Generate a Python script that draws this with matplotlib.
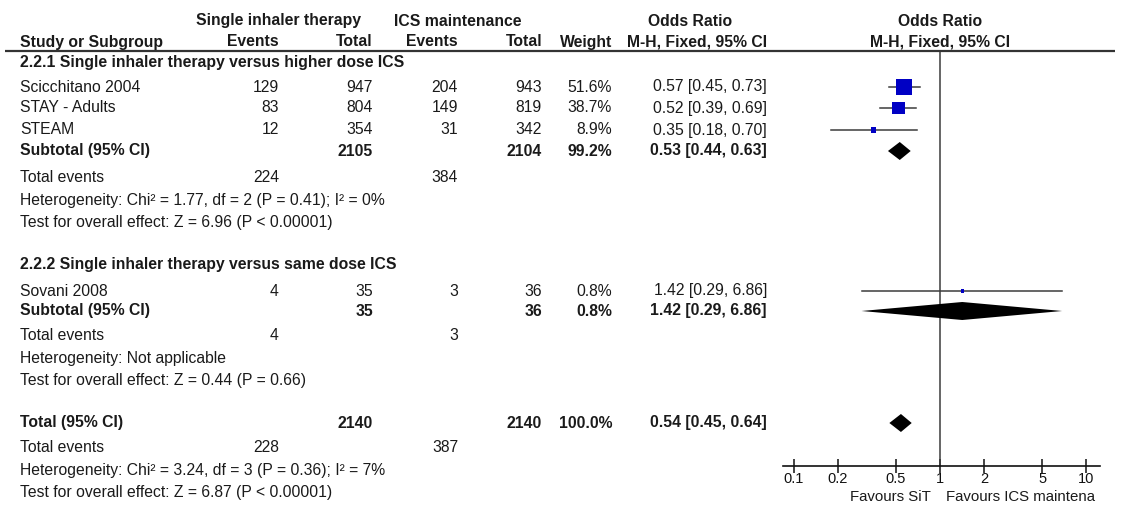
import numpy as np
import matplotlib
matplotlib.use("Agg")
import matplotlib.pyplot as plt

plt.rcParams['font.family'] = ['Liberation Sans', 'DejaVu Sans']

# Datos de los estudios
estudios = ["Scicchitano 2004", "STAY - Adults", "STEAM", "Sovani 2008"]
sit_eventos = [129, 83, 12, 4]
sit_total = [947, 804, 354, 35]
ics_eventos = [204, 149, 31, 3]
ics_total = [943, 819, 342, 36]
peso = [51.6, 38.7, 8.9, 0.8]
or_est = [0.57, 0.52, 0.35, 1.42]
or_inf = [0.45, 0.39, 0.18, 0.29]
or_sup = [0.73, 0.69, 0.70, 6.86]

# Subgrupos
subgrupos = ["2.2.1 Single inhaler therapy versus higher dose ICS",
             "2.2.2 Single inhaler therapy versus same dose ICS"]
sub_sit_total = [2105, 35]
sub_ics_total = [2104, 36]
sub_peso = [99.2, 0.8]
sub_est = [0.53, 1.42]
sub_inf = [0.44, 0.29]
sub_sup = [0.63, 6.86]
sub_sit_eventos = [224, 4]
sub_ics_eventos = [384, 3]
sub_hetero = ["Heterogeneity: Chi\u00b2 = 1.77, df = 2 (P = 0.41); I\u00b2 = 0%",
              "Heterogeneity: Not applicable"]
sub_test = ["Test for overall effect: Z = 6.96 (P < 0.00001)",
            "Test for overall effect: Z = 0.44 (P = 0.66)"]

# Total global
tot_sit_total, tot_ics_total = 2140, 2140
tot_peso = 100.0
tot_est, tot_inf, tot_sup = 0.54, 0.45, 0.64
tot_sit_eventos, tot_ics_eventos = 228, 387
tot_hetero = "Heterogeneity: Chi\u00b2 = 3.24, df = 3 (P = 0.36); I\u00b2 = 7%"
tot_test = "Test for overall effect: Z = 6.87 (P < 0.00001)"

ticks = [0.1, 0.2, 0.5, 1, 2, 5, 10]
tick_labels = ["0.1", "0.2", "0.5", "1", "2", "5", "10"]

# Layout (pixeles)
W, H = 1125, 508
x_nombre = 20
x_sit_ev, x_sit_tot = 279, 373
x_ics_ev, x_ics_tot = 458, 542
x_peso, x_or = 612, 767
fs = 11.3
col_txt = "#1a1a1a"
col_cuadro = "#0000c4"
col_linea = "#3c3c3c"

filas_estudio = [87, 108, 130, 291]
fila_titulo = [63, 265]
fila_subtotal = [151, 311]
fila_eventos = [178, 335]
fila_hetero = [201, 358]
fila_test = [223, 380]
fila_total, fila_tot_ev, fila_tot_het, fila_tot_test = 423, 447, 470, 492

eje_y = 466
eje_x0, eje_x1 = 783, 1100
px_por_decada = 146
x_nulo = 940

fig = plt.figure(figsize=(W / 100, H / 100), dpi=100)
ax = fig.add_axes([0, 0, 1, 1])
ax.set_xlim(0, W)
ax.set_ylim(H, 0)
ax.axis("off")


def txt(x, y, s, ha="left", bold=False, size=fs):
    ax.text(x, y, s, ha=ha, va="center", fontsize=size, color=col_txt,
            fontweight="bold" if bold else "normal")


# Encabezados
txt(279, 21, "Single inhaler therapy", ha="center", bold=True)
txt(458, 21, "ICS maintenance", ha="center", bold=True)
txt(690, 21, "Odds Ratio", ha="center", bold=True)
txt(x_nulo, 21, "Odds Ratio", ha="center", bold=True)
txt(x_nombre, 42, "Study or Subgroup", bold=True)
txt(x_sit_ev, 42, "Events", ha="right", bold=True)
txt(x_sit_tot, 42, "Total", ha="right", bold=True)
txt(x_ics_ev, 42, "Events", ha="right", bold=True)
txt(x_ics_tot, 42, "Total", ha="right", bold=True)
txt(x_peso, 42, "Weight", ha="right", bold=True)
txt(x_or, 42, "M-H, Fixed, 95% CI", ha="right", bold=True)
txt(x_nulo, 42, "M-H, Fixed, 95% CI", ha="center", bold=True)
ax.plot([5, 1115], [51, 51], color="#333333", lw=1.6, solid_capstyle="butt")

# Eje del forest plot (escala log)
axf = fig.add_axes([eje_x0 / W, (H - eje_y) / H, (eje_x1 - eje_x0) / W, eje_y / H])
axf.set_xscale("log")
axf.set_xlim(10 ** ((eje_x0 - x_nulo) / px_por_decada),
             10 ** ((eje_x1 - x_nulo) / px_por_decada))
axf.set_ylim(eje_y, 0)
axf.patch.set_alpha(0)
for lado in ["top", "left", "right"]:
    axf.spines[lado].set_visible(False)
axf.spines["bottom"].set_linewidth(1.2)
axf.spines["bottom"].set_color("#111111")
axf.set_yticks([])
axf.set_xticks(ticks)
axf.set_xticklabels(tick_labels)
axf.xaxis.set_minor_locator(matplotlib.ticker.NullLocator())
axf.tick_params(axis="x", direction="inout", length=10, width=1.1,
                labelsize=10.5, pad=-1, colors="#111111")
axf.vlines(1, 52, eje_y, color=col_linea, lw=1.1)

# Estudios
for i, nombre in enumerate(estudios):
    y = filas_estudio[i]
    txt(x_nombre, y, nombre)
    txt(x_sit_ev, y, str(sit_eventos[i]), ha="right")
    txt(x_sit_tot, y, str(sit_total[i]), ha="right")
    txt(x_ics_ev, y, str(ics_eventos[i]), ha="right")
    txt(x_ics_tot, y, str(ics_total[i]), ha="right")
    txt(x_peso, y, f"{peso[i]:.1f}%", ha="right")
    txt(x_or, y, f"{or_est[i]:.2f} [{or_inf[i]:.2f}, {or_sup[i]:.2f}]", ha="right")
    axf.plot([or_inf[i], or_sup[i]], [y, y], color=col_linea, lw=1.1)
    lado_px = 3 + 0.25 * peso[i]
    axf.scatter([or_est[i]], [y], marker="s", s=(lado_px * 0.72) ** 2,
                color=col_cuadro, edgecolors="none", zorder=3)


def diamante(est, inf, sup, y, alto=9):
    axf.fill([inf, est, sup, est], [y, y - alto, y, y + alto],
             color="black", lw=0, zorder=3)


# Subgrupos
for g, titulo in enumerate(subgrupos):
    txt(x_nombre, fila_titulo[g], titulo, bold=True)
    y = fila_subtotal[g]
    txt(x_nombre, y, "Subtotal (95% CI)", bold=True)
    txt(x_sit_tot, y, str(sub_sit_total[g]), ha="right", bold=True)
    txt(x_ics_tot, y, str(sub_ics_total[g]), ha="right", bold=True)
    txt(x_peso, y, f"{sub_peso[g]:.1f}%", ha="right", bold=True)
    txt(x_or, y, f"{sub_est[g]:.2f} [{sub_inf[g]:.2f}, {sub_sup[g]:.2f}]",
        ha="right", bold=True)
    diamante(sub_est[g], sub_inf[g], sub_sup[g], y)
    ye = fila_eventos[g]
    txt(x_nombre, ye, "Total events")
    txt(x_sit_ev, ye, str(sub_sit_eventos[g]), ha="right")
    txt(x_ics_ev, ye, str(sub_ics_eventos[g]), ha="right")
    txt(x_nombre, fila_hetero[g], sub_hetero[g])
    txt(x_nombre, fila_test[g], sub_test[g])

# Total
txt(x_nombre, fila_total, "Total (95% CI)", bold=True)
txt(x_sit_tot, fila_total, str(tot_sit_total), ha="right", bold=True)
txt(x_ics_tot, fila_total, str(tot_ics_total), ha="right", bold=True)
txt(x_peso, fila_total, f"{tot_peso:.1f}%", ha="right", bold=True)
txt(x_or, fila_total, f"{tot_est:.2f} [{tot_inf:.2f}, {tot_sup:.2f}]",
    ha="right", bold=True)
diamante(tot_est, tot_inf, tot_sup, fila_total)
txt(x_nombre, fila_tot_ev, "Total events")
txt(x_sit_ev, fila_tot_ev, str(tot_sit_eventos), ha="right")
txt(x_ics_ev, fila_tot_ev, str(tot_ics_eventos), ha="right")
txt(x_nombre, fila_tot_het, tot_hetero)
txt(x_nombre, fila_tot_test, tot_test)

txt(931, 497, "Favours SiT", ha="right", size=10.8)
txt(946, 497, "Favours ICS maintena", size=10.8)

fig.savefig("out.png", dpi=100)
